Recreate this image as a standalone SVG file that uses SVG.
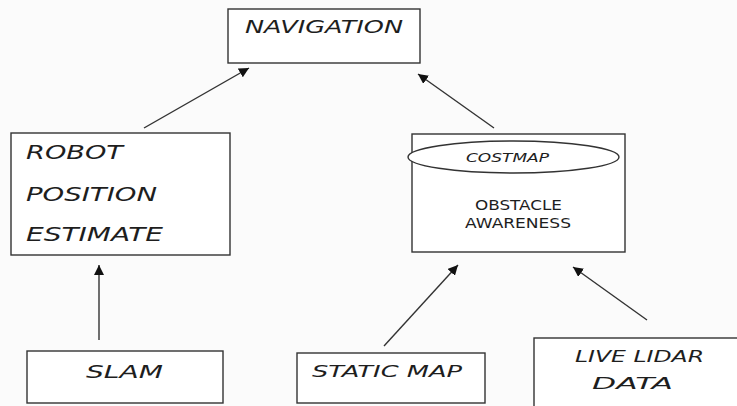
<svg xmlns="http://www.w3.org/2000/svg" width="737" height="406" viewBox="0 0 737 406">
<defs>
<style>
.box{fill:#ffffff;stroke:#333333;stroke-width:1.4}
.t{font-family:"DejaVu Sans","Liberation Sans",sans-serif;fill:#1e1e1e}
.i{font-style:italic}
.conn line{stroke:#333333;stroke-width:1.4;fill:none}
</style>
<marker id="ah" viewBox="0 0 10 10" refX="10" refY="5" markerWidth="10" markerHeight="10" markerUnits="userSpaceOnUse" orient="auto">
<path d="M0,0 L10,5 L0,10 z" fill="#111111"/>
</marker>
</defs>
<rect x="0" y="0" width="737" height="406" fill="#fbfbfb"/>
<g id="navigation">
<rect class="box" x="228" y="9" width="192" height="54"/>
<text class="t i" x="245" y="33" font-size="17.5" textLength="158" lengthAdjust="spacingAndGlyphs">NAVIGATION</text>
</g>
<g id="robot-position-estimate">
<rect class="box" x="11" y="133" width="219" height="122"/>
<text class="t i" x="26" y="159" font-size="19.5" textLength="97" lengthAdjust="spacingAndGlyphs">ROBOT</text>
<text class="t i" x="26" y="201" font-size="19.5" textLength="131" lengthAdjust="spacingAndGlyphs">POSITION</text>
<text class="t i" x="26" y="241" font-size="19.5" textLength="137" lengthAdjust="spacingAndGlyphs">ESTIMATE</text>
</g>
<g id="costmap">
<rect class="box" x="412" y="134" width="213" height="118"/>
<ellipse cx="513.5" cy="157" rx="105.5" ry="16" fill="#ffffff" stroke="#333333" stroke-width="1.4"/>
<text class="t i" x="466" y="162" font-size="12.8" textLength="83" lengthAdjust="spacingAndGlyphs">COSTMAP</text>
<text class="t" x="475" y="210" font-size="13.5" textLength="87" lengthAdjust="spacingAndGlyphs">OBSTACLE</text>
<text class="t" x="465" y="228" font-size="13.5" textLength="106" lengthAdjust="spacingAndGlyphs">AWARENESS</text>
</g>
<g id="slam">
<rect class="box" x="27" y="351" width="196" height="52"/>
<text class="t i" x="86" y="378" font-size="18" textLength="77" lengthAdjust="spacingAndGlyphs">SLAM</text>
</g>
<g id="static-map">
<rect class="box" x="297" y="353" width="188" height="50"/>
<text class="t i" x="312" y="377" font-size="16" textLength="150" lengthAdjust="spacingAndGlyphs">STATIC MAP</text>
</g>
<g id="live-lidar-data">
<rect class="box" x="534" y="338" width="215" height="80"/>
<text class="t i" x="575" y="362" font-size="16" textLength="129" lengthAdjust="spacingAndGlyphs">LIVE LIDAR</text>
<text class="t i" x="592" y="389" font-size="16" textLength="81" lengthAdjust="spacingAndGlyphs">DATA</text>
</g>
<g id="connectors" class="conn">
<line x1="99" y1="340" x2="99" y2="265" marker-end="url(#ah)"/>
<line x1="144" y1="128" x2="249" y2="68" marker-end="url(#ah)"/>
<line x1="494" y1="128" x2="418" y2="74" marker-end="url(#ah)"/>
<line x1="384" y1="346" x2="458" y2="265" marker-end="url(#ah)"/>
<line x1="647" y1="320" x2="573" y2="267" marker-end="url(#ah)"/>
</g>
</svg>
